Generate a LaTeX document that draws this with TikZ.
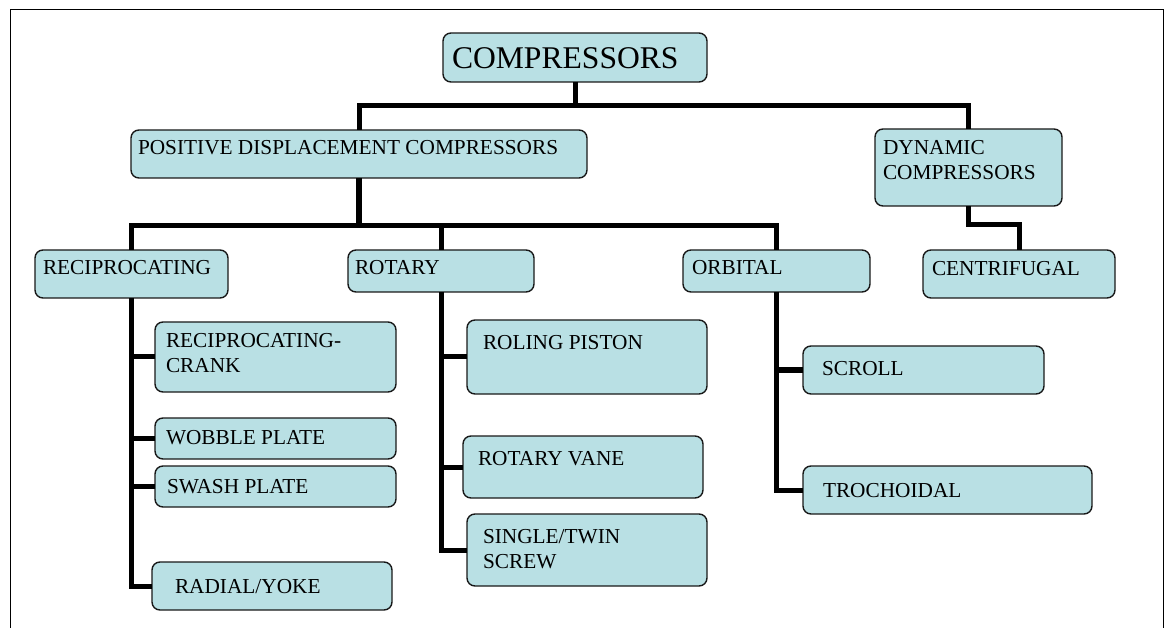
\documentclass[tikz,border=0pt]{standalone}
\usepackage{fontspec}
\setmainfont{Liberation Serif}
\definecolor{boxfill}{RGB}{185,224,228}
% box text: width, height, left pad, first baseline from top, text
\newcommand{\bxt}[5]{\parbox[t][#2][t]{#1}{\leftskip=#3\relax\rule{0pt}{#4}#5}}
\tikzset{
  cbox/.style={draw=black!90, line width=1.4pt, fill=boxfill, rounded corners=8pt,
    anchor=north west, inner sep=0pt, outer sep=0pt,
    font=\fontsize{21.3}{25}\selectfont},
  bigbox/.style={cbox, font=\fontsize{31.6}{36}\selectfont},
  conn/.style={line width=5pt},
  trunk/.style={line width=6pt}
}
\begin{document}
\begin{tikzpicture}[x=1pt, y=-1pt]
\useasboundingbox (0,0) rectangle (1165,628);
% open frame (no bottom edge)
\draw[line width=1.8pt] (10.5,628) -- (10.5,9.5) -- (1163.5,9.5) -- (1163.5,628);

% boxes
\node[bigbox] (comp)   at (443,33)  {\bxt{264pt}{49pt}{9pt}{36pt}{COMPRESSORS}};
\node[cbox]   (pdc)    at (131,130) {\bxt{456pt}{48pt}{7pt}{25pt}{POSITIVE DISPLACEMENT COMPRESSORS}};
\node[cbox]   (dyn)    at (875,129) {\bxt{187pt}{77pt}{8pt}{26pt}{DYNAMIC\\COMPRESSORS}};
\node[cbox]   (cent)   at (923,250) {\bxt{192pt}{48pt}{9pt}{26pt}{CENTRIFUGAL}};
\node[cbox]   (recip)  at (35,250)  {\bxt{193pt}{48pt}{8pt}{25pt}{RECIPROCATING}};
\node[cbox]   (rot)    at (348,250) {\bxt{186pt}{42pt}{7pt}{25pt}{ROTARY}};
\node[cbox]   (orb)    at (683,250) {\bxt{187pt}{42pt}{9pt}{25pt}{ORBITAL}};
\node[cbox]   (crank)  at (155,322) {\bxt{241pt}{70pt}{11pt}{26pt}{RECIPROCATING-\\CRANK}};
\node[cbox]   (wobble) at (155,418) {\bxt{241pt}{41pt}{11pt}{26pt}{WOBBLE PLATE}};
\node[cbox]   (swash)  at (155,466) {\bxt{241pt}{41pt}{12pt}{27pt}{SWASH PLATE}};
\node[cbox]   (radial) at (152,562) {\bxt{240pt}{48pt}{23pt}{31pt}{RADIAL/YOKE}};
\node[cbox]   (roll)   at (467,320) {\bxt{240pt}{74pt}{16pt}{29pt}{ROLING PISTON}};
\node[cbox]   (vane)   at (463,436) {\bxt{240pt}{62pt}{15pt}{29pt}{ROTARY VANE}};
\node[cbox]   (screw)  at (467,514) {\bxt{240pt}{72pt}{16pt}{29pt}{SINGLE/TWIN\\SCREW}};
\node[cbox]   (scroll) at (803,346) {\bxt{241pt}{48pt}{19pt}{30pt}{SCROLL}};
\node[cbox]   (troch)  at (803,466) {\bxt{289pt}{48pt}{20pt}{31pt}{TROCHOIDAL}};

% junction points of the bus bars
\coordinate (top) at (575,106);
\coordinate (mid) at (359,226);

% first level
\draw[conn] (comp.south) -- (top);
\draw[conn] (pdc.north) |- (top) -| (dyn.north);
\draw[conn] (dyn.south) -- ++(0,19) -| (cent.north);

% second level
\draw[trunk] (pdc.south) -- (mid);
\draw[conn] (recip.north) |- (mid) -| (orb.north);
\draw[conn] (rot.north) -- (rot.north |- mid);

% reciprocating family
\draw[conn] (recip.south) |- (radial.west);
\draw[conn] (crank.west) -- (crank.west -| recip.south);
\draw[conn] (wobble.west) -- (wobble.west -| recip.south);
\draw[conn] (swash.west) -- (swash.west -| recip.south);

% rotary family
\draw[conn] (rot.south) |- (screw.west);
\draw[conn] (roll.west) -- (roll.west -| rot.south);
\draw[conn] (vane.west) -- (vane.west -| rot.south);

% orbital family
\draw[conn] (orb.south) |- (troch.west);
\draw[conn] (scroll.west) -- (scroll.west -| orb.south);
\end{tikzpicture}
\end{document}
